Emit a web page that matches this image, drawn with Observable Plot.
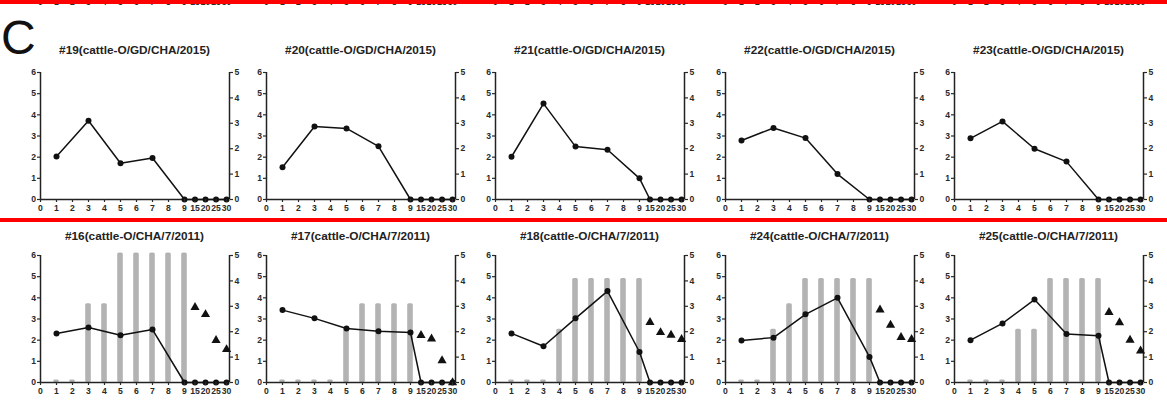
<!DOCTYPE html>
<html>
<head>
<meta charset="utf-8">
<script src="https://cdn.jsdelivr.net/npm/d3@7"></script>
<script src="https://cdn.jsdelivr.net/npm/@observablehq/plot@0.6"></script>
<style>
  html, body { margin: 0; padding: 0; background: #fff; }
  #root { position: relative; width: 1167px; height: 400px; overflow: hidden; background: #fff;
          font-family: "Liberation Sans", Arial, sans-serif; }
  .panel { position: absolute; width: 250px; }
  .panel svg { max-width: none !important; }
  .title { position: absolute; width: 250px; text-align: center; font-weight: bold; font-size: 11.8px;
           color: #222; line-height: 14px; white-space: nowrap; }
  .red { position: absolute; left: 0; width: 1167px; height: 4px; background: #ff0000; z-index: 5; }
  .letter { position: absolute; left: 1px; top: 14px; font-size: 48px; line-height: 48px; color: #111; }
</style>
</head>
<body>
<div id="root">
  <div class="red" style="top:0px"></div>
  <div class="red" style="top:218px"></div>
  <div class="letter">C</div>
</div>
<script>
// ---- data ----
const xTicks = [0, 1, 2, 3, 4, 5, 6, 7, 8, 9, 15, 20, 25, 30];
const lineDays = [1, 3, 5, 7, 9, 15, 20, 25, 30];
const barDays = [1, 2, 3, 4, 5, 6, 7, 8, 9];
const triDays = [15, 20, 25, 30];
const leftTicks = [0, 1, 2, 3, 4, 5, 6];
const rightTicks = [0, 1, 2, 3, 4, 5];

const topTitles = [
  "#19(cattle-O/GD/CHA/2015)",
  "#20(cattle-O/GD/CHA/2015)",
  "#21(cattle-O/GD/CHA/2015)",
  "#22(cattle-O/GD/CHA/2015)",
  "#23(cattle-O/GD/CHA/2015)"
];
const topLines = [
  [2.03, 3.72, 1.71, 1.96, 0, 0, 0, 0, 0],
  [1.52, 3.45, 3.36, 2.51, 0, 0, 0, 0, 0],
  [2.02, 4.53, 2.50, 2.35, 1.00, 0, 0, 0, 0],
  [2.79, 3.38, 2.90, 1.20, 0, 0, 0, 0, 0],
  [2.89, 3.69, 2.40, 1.79, 0, 0, 0, 0, 0]
];

const bottomTitles = [
  "#16(cattle-O/CHA/7/2011)",
  "#17(cattle-O/CHA/7/2011)",
  "#18(cattle-O/CHA/7/2011)",
  "#24(cattle-O/CHA/7/2011)",
  "#25(cattle-O/CHA/7/2011)"
];
const bottomLines = [
  [2.31, 2.60, 2.23, 2.50, 0, 0, 0, 0, 0],
  [3.42, 3.03, 2.55, 2.42, 2.36, 0, 0, 0, 0],
  [2.32, 1.71, 3.03, 4.32, 1.44, 0, 0, 0, 0],
  [1.99, 2.12, 3.22, 4.00, 1.21, 0, 0, 0, 0],
  [2.00, 2.79, 3.92, 2.29, 2.21, 0, 0, 0, 0]
];
// bars on the right axis (0-5)
const bottomBars = [
  [0, 0, 3, 3, 5, 5, 5, 5, 5],
  [0, 0, 0, 0, 2, 3, 3, 3, 3],
  [0, 0, 0, 2, 4, 4, 4, 4, 4],
  [0, 0, 2, 3, 4, 4, 4, 4, 4],
  [0, 0, 0, 2, 2, 4, 4, 4, 4]
];
// triangles on the right axis (0-5)
const bottomTriangles = [
  [2.96, 2.68, 1.66, 1.30],
  [1.86, 1.72, 0.86, 0],
  [2.37, 1.97, 1.87, 1.70],
  [2.86, 2.26, 1.78, 1.70],
  [2.76, 2.36, 1.67, 1.25]
];

// ---- layout ----
const leftMax = 6, rightMax = 5;
const ratio = leftMax / rightMax;
const xDomain = [0, 9, 10, 31.4];
const panelLeft = [40, 266, 495, 725, 954];
const W = 250, H = 175, ML = 30, MR = 31, MT = 32, MB = 16;
const fontStyle = {fontFamily: "'Liberation Sans', Arial, sans-serif", fontSize: "8.6px", fontWeight: "bold",
                   color: "#2a2a2a", background: "transparent", overflow: "visible"};

const root = document.getElementById("root");

function place(chart, axisLeft, svgTop) {
  chart.style.maxWidth = "none";
  const wrap = document.createElement("div");
  wrap.className = "panel";
  wrap.style.left = (axisLeft - ML) + "px";
  wrap.style.top = svgTop + "px";
  wrap.appendChild(chart);
  root.appendChild(wrap);
}

function xScale() {
  return {type: "linear", domain: xDomain, range: [ML, ML + 144, ML + 144, W - MR]};
}

function makePanel(title, line, bars, tris, svgTop, titleTop, axisLeft) {
  const lineData = lineDays.map((d, i) => ({day: d, v: line[i]}));
  const barData = bars ? barDays.map((d, i) => ({day: d, v: bars[i] * ratio})) : [];
  const triData = tris ? triDays.map((d, i) => ({day: d, v: tris[i] * ratio})) : [];
  const chart = Plot.plot({
    width: W, height: H,
    marginLeft: ML, marginRight: MR, marginTop: MT, marginBottom: MB,
    x: xScale(),
    y: {domain: [0, leftMax]},
    style: fontStyle,
    marks: [
      Plot.rect(barData, {x1: "day", x2: "day", y1: 0, y2: "v", insetLeft: -2.8, insetRight: -2.8,
                          insetTop: -2.5, fill: "#b3b3b3", rx: 1.5}),
      Plot.ruleX([0], {y1: 0, y2: leftMax, stroke: "#222", strokeWidth: 1.5}),
      Plot.ruleX([xDomain[3]], {y1: 0, y2: leftMax, stroke: "#222", strokeWidth: 1.5}),
      Plot.ruleY([0], {x1: 0, x2: xDomain[3], stroke: "#222", strokeWidth: 1.5}),
      Plot.line(lineData, {x: "day", y: "v", stroke: "#111", strokeWidth: 1.5}),
      Plot.dot(lineData, {x: "day", y: "v", r: 3, fill: "#111", stroke: "none"}),
      Plot.dot(triData, {x: "day", y: "v", symbol: "triangle", r: 3.4, fill: "#111", stroke: "none"}),
      Plot.axisX({ticks: xTicks, tickSize: 3, tickPadding: 2, strokeWidth: 1.2, label: null}),
      Plot.axisY({anchor: "left", ticks: leftTicks, tickFormat: d3.format("d"), tickSize: 3, tickPadding: 1.5,
                  strokeWidth: 1.2, label: null}),
      Plot.axisY({anchor: "right", ticks: rightTicks.map(t => t * ratio), tickFormat: t => String(Math.round(t / ratio)),
                  tickSize: 3, tickPadding: 2, strokeWidth: 1.2, label: null})
    ]
  });
  place(chart, axisLeft, svgTop);

  const t = document.createElement("div");
  t.className = "title";
  t.textContent = title;
  t.style.left = (axisLeft - ML + (W - MR + ML) / 2 - W / 2) + "px";
  t.style.top = titleTop + "px";
  root.appendChild(t);
}

// x-axis tick labels of the row above, cut off at the top edge
function makeGhostAxis(axisLeft, svgTop) {
  const chart = Plot.plot({
    width: W, height: H,
    marginLeft: ML, marginRight: MR, marginTop: MT, marginBottom: MB,
    x: xScale(),
    y: {domain: [0, leftMax], axis: null},
    style: fontStyle,
    marks: [
      Plot.axisX({ticks: xTicks, tickSize: 3, tickPadding: 2, strokeWidth: 1.2, label: null})
    ]
  });
  place(chart, axisLeft, svgTop);
}

for (let i = 0; i < 5; i++) {
  makeGhostAxis(panelLeft[i], -166.5);
  makePanel(topTitles[i], topLines[i], null, null, 40, 43, panelLeft[i]);
  makePanel(bottomTitles[i], bottomLines[i], bottomBars[i], bottomTriangles[i], 223, 229, panelLeft[i]);
}
</script>
</body>
</html>
